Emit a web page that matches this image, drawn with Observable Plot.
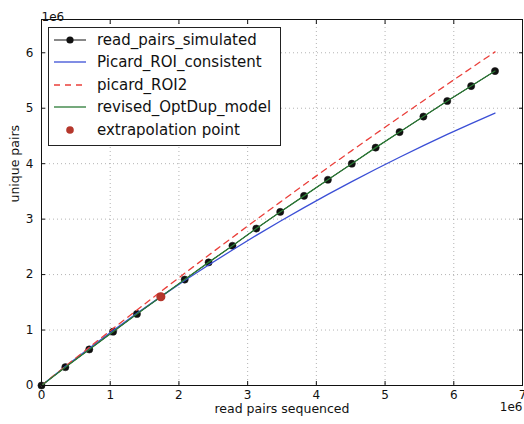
<!DOCTYPE html>
<html><head><meta charset="utf-8">
<script src="https://cdn.jsdelivr.net/npm/d3@7"></script>
<script src="https://cdn.jsdelivr.net/npm/@observablehq/plot@0.6"></script>
<style>
body{margin:0;background:#fff;font-family:"DejaVu Sans",sans-serif;}
#wrap{position:relative;width:524px;height:424px;}
#legend{position:absolute;left:48px;top:27px;width:233px;height:119px;border:1px solid #222;background:#fff;box-sizing:border-box;font-size:15px;color:#111;}
.row{position:absolute;left:0;height:22px;display:flex;align-items:center;white-space:nowrap;}
.row svg{margin-left:5px;margin-right:11px;}
</style></head><body><div id="wrap"></div>
<script>
// x: read pairs sequenced (units of 1e6)
const readsSequenced = [0, 0.347, 0.695, 1.042, 1.389, 1.737, 2.084, 2.432, 2.779, 3.126, 3.474, 3.821, 4.168, 4.516, 4.863, 5.211, 5.558, 5.905, 6.253, 6.600];
const readPairsSimulated = [0, 0.33, 0.65, 0.97, 1.29, 1.60, 1.91, 2.22, 2.52, 2.83, 3.13, 3.42, 3.71, 4.00, 4.29, 4.57, 4.85, 5.13, 5.40, 5.67];
const picardROIConsistent = [0, 0.342, 0.672, 0.992, 1.302, 1.603, 1.892, 2.173, 2.444, 2.707, 2.962, 3.208, 3.446, 3.677, 3.900, 4.116, 4.325, 4.527, 4.723, 4.913];
const picardROI2 = [0, 0.346, 0.688, 1.027, 1.362, 1.694, 2.023, 2.349, 2.671, 2.991, 3.307, 3.620, 3.930, 4.236, 4.539, 4.839, 5.136, 5.431, 5.725, 6.016];
const revisedOptDupModel = [0, 0.33, 0.65, 0.97, 1.29, 1.60, 1.91, 2.22, 2.52, 2.83, 3.13, 3.42, 3.71, 4.00, 4.29, 4.57, 4.85, 5.13, 5.40, 5.67];
const extrapolationX = [1.737];
const extrapolationY = [1.60];
const xTicks = [0, 1, 2, 3, 4, 5, 6, 7];
const yTicks = [0, 1, 2, 3, 4, 5, 6];
const seriesNames = ["read_pairs_simulated", "Picard_ROI_consistent", "picard_ROI2", "revised_OptDup_model", "extrapolation point"];
const xLabel = "read pairs sequenced";
const yLabel = "unique pairs";
const offsetText = "1e6";

const colors = {black: "#111", blue: "#3b4fd6", red: "#ea3f3a", green: "#2a7a35", point: "#b5372c"};

const rows = readsSequenced.map((x, i) => ({
  x, sim: readPairsSimulated[i], blue: picardROIConsistent[i], red: picardROI2[i], green: revisedOptDupModel[i]
}));
const extra = extrapolationX.map((x, i) => ({x, y: extrapolationY[i]}));

const font = "DejaVu Sans";
const chart = Plot.plot({
  width: 524, height: 424,
  marginLeft: 41, marginRight: 2, marginTop: 19, marginBottom: 39,
  style: {fontFamily: font, fontSize: "12px", color: "#111", background: "#fff"},
  x: {domain: [0, 7], axis: null},
  y: {domain: [0, 6.6], axis: null},
  marks: [
    Plot.gridX(xTicks.slice(1, -1), {stroke: "#888", strokeOpacity: 0.8, strokeWidth: 0.8, strokeDasharray: "1,3"}),
    Plot.gridY(yTicks.slice(1), {stroke: "#888", strokeOpacity: 0.8, strokeWidth: 0.8, strokeDasharray: "1,3"}),
    Plot.line(rows, {x: "x", y: "sim", stroke: colors.black, strokeWidth: 1}),
    Plot.dot(rows, {x: "x", y: "sim", r: 3.6, fill: colors.black, stroke: colors.black, strokeWidth: 0.5}),
    Plot.line(rows, {x: "x", y: "blue", stroke: colors.blue, strokeWidth: 1.3}),
    Plot.line(rows, {x: "x", y: "red", stroke: colors.red, strokeWidth: 1.3, strokeDasharray: "6,5"}),
    Plot.line(rows, {x: "x", y: "green", stroke: colors.green, strokeWidth: 1.3}),
    Plot.dot(extra, {x: "x", y: "y", r: 3.8, fill: colors.point, stroke: colors.point}),
    Plot.frame({stroke: "#111", strokeWidth: 1}),
    Plot.axisX(xTicks, {anchor: "bottom", tickSize: -4, tickPadding: 9, tickFormat: d => String(d), label: null, fontSize: 12}),
    Plot.axisX(xTicks, {anchor: "top", tickSize: -4, tickPadding: 9, tickFormat: () => "", label: null}),
    Plot.axisY(yTicks, {anchor: "left", tickSize: -4, tickPadding: 12, tickFormat: d => String(d), label: null, fontSize: 12}),
    Plot.axisY(yTicks, {anchor: "right", tickSize: -4, tickPadding: 9, tickFormat: () => "", label: null}),
    Plot.text([xLabel], {text: d => d, frameAnchor: "bottom", dy: 27, fontSize: 12.5, fill: "#111"}),
    Plot.text([yLabel], {text: d => d, frameAnchor: "left", dx: -27, rotate: -90, fontSize: 12.5, fill: "#111"}),
    Plot.text([offsetText], {text: d => d, frameAnchor: "top-left", dy: -7, textAnchor: "start", fontSize: 12, fill: "#111"}),
    Plot.text([offsetText], {text: d => d, frameAnchor: "bottom-right", dy: 25, textAnchor: "end", fontSize: 12, fill: "#111"})
  ]
});

const wrap = document.getElementById("wrap");
wrap.appendChild(chart);

// legend overlay
const legend = document.createElement("div");
legend.id = "legend";
const sample = [
  `<line x1="0" y1="6" x2="32" y2="6" stroke="${colors.black}" stroke-width="1"/><circle cx="16" cy="6" r="3.6" fill="${colors.black}"/>`,
  `<line x1="0" y1="6" x2="32" y2="6" stroke="${colors.blue}" stroke-width="1.3"/>`,
  `<line x1="0" y1="6" x2="32" y2="6" stroke="${colors.red}" stroke-width="1.3" stroke-dasharray="6,5"/>`,
  `<line x1="0" y1="6" x2="32" y2="6" stroke="${colors.green}" stroke-width="1.3"/>`,
  `<circle cx="16" cy="6" r="3.8" fill="${colors.point}"/>`
];
const rowCenters = [11.5, 34, 56.5, 79, 101.5];
seriesNames.forEach((name, i) => {
  const r = document.createElement("div");
  r.className = "row";
  r.style.top = (rowCenters[i] - 11) + "px";
  r.innerHTML = `<svg width="32" height="12">${sample[i]}</svg><span>${name}</span>`;
  legend.appendChild(r);
});
wrap.appendChild(legend);
</script>
</body></html>
